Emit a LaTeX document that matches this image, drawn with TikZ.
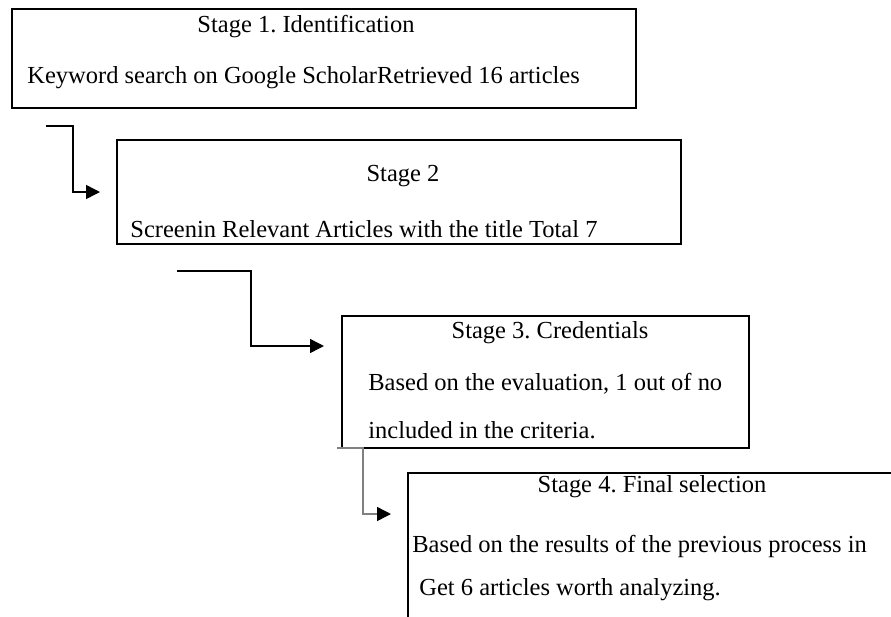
\documentclass[tikz,border=0pt]{standalone}
\usepackage{fontspec}
\setmainfont{Liberation Serif}
\usetikzlibrary{arrows.meta}

\tikzset{
  stagebox/.style={draw, line width=0.9pt, inner sep=0pt},
  txt/.style={inner sep=0pt, font=\fontsize{12.25}{14}\selectfont},
  flow/.style={-{Triangle[length=7pt,width=7pt]}, line width=0.75pt},
}

\begin{document}
\frenchspacing
\begin{tikzpicture}[x=0.5pt,y=-0.5pt]
  \clip (0,0) rectangle (891,617);
  \fill[white] (0,0) rectangle (891,617);

  % Boxes for the four stages
  \node[stagebox, minimum width=312pt, minimum height=49.5pt] (box1) at (324,58.5) {};
  \node[stagebox, minimum width=282pt, minimum height=52pt] (box2) at (399,192) {};
  \node[stagebox, minimum width=203.5pt, minimum height=66pt] (box3) at (545.5,382) {};
  \node[stagebox, minimum width=296pt, minimum height=113.5pt] (box4) at (704,586.5) {}; % runs off the page

  % Titles
  \node[txt] (title1) at (306,27) {Stage 1. Identification};
  \node[txt] (title2) at (403,176) {Stage 2};
  \node[txt] (title3) at (550,333) {Stage 3. Credentials};
  \node[txt] (title4) at (652,487) {Stage 4. Final selection};

  % Texts in the boxes
  \node[txt, anchor=west] (body1) at (27,78) {Keyword search on Google ScholarRetrieved 16 articles};
  \node[txt, anchor=west] (body2) at (130,229) {Screenin Relevant Articles with the title Total 7};
  \node[txt, anchor=west] (body3a) at (368,384) {Based on the evaluation, 1 out of no};
  \node[txt, anchor=west] (body3b) at (368,430) {included in the criteria.};
  \node[txt, anchor=west] (body4a) at (412,546) {Based on the results of the previous process in};
  \node[txt, anchor=west] (body4b) at (419,590) {Get 6 articles worth analyzing.};

  % Corners of the connectors
  \coordinate (s1) at (46,126);  \coordinate (k1) at (73,192);  \coordinate (e1) at (100,192);
  \coordinate (s2) at (177,271); \coordinate (k2) at (251,346); \coordinate (e2) at (324,346);
  \coordinate (s3) at (337,448); \coordinate (k3) at (363,514); \coordinate (e3) at (391,514);

  % Draw connectors
  \draw[flow] (s1) -| (k1) -- (e1);
  \draw[flow] (s2) -| (k2) -- (e2);
  \draw[flow, draw=black!50, -{Triangle[length=7pt,width=7pt,color=black]}] (s3) -| (k3) -- (e3);
\end{tikzpicture}
\end{document}
